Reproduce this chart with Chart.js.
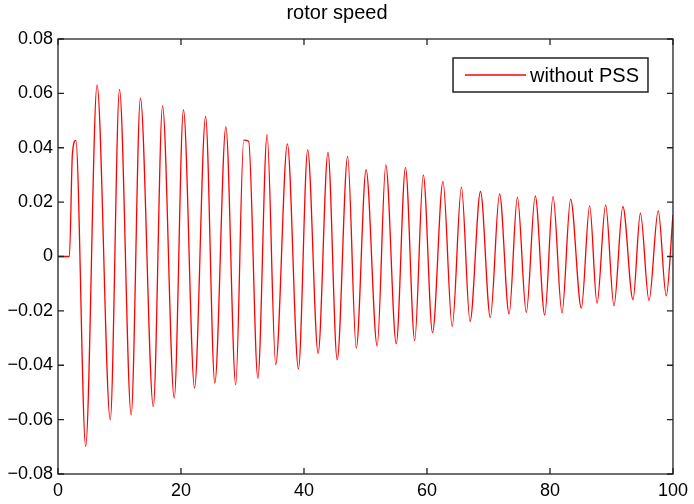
<!DOCTYPE html>
<html>
<head>
<meta charset="utf-8">
<script src="https://cdn.jsdelivr.net/npm/chart.js@4/dist/chart.umd.min.js"></script>
<style>
  html, body { margin: 0; padding: 0; background: #fff; }
  #wrap { width: 694px; height: 504px; }
</style>
</head>
<body>
<div id="wrap"><canvas id="chart-rotor"></canvas></div>
<script>
// time (s) at each turning point of the trace
const times = [0, 1.85, 2.35, 2.9, 4.5, 6.35, 8.5, 10.0, 11.9, 13.4, 15.5, 17.0,
  18.9, 20.4, 22.2, 24.0, 25.5, 27.3, 28.9, 30.2, 31.0, 32.5, 34.0, 35.4,
  37.3, 39.1, 40.6, 42.3, 43.9, 45.4, 47.1, 48.5, 50.1, 51.9, 53.3, 55.0,
  56.5, 58.0, 59.4, 60.9, 62.6, 64.1, 65.6, 67.0, 68.7, 70.3, 71.8, 73.35,
  74.7, 76.15, 77.6, 79.15, 80.5, 81.95, 83.35, 85.1, 86.45, 87.65, 89.05, 90.4,
  91.85, 93.5, 94.7, 96.1, 97.6, 98.9, 100];

const speedNoPss = [0, 0, 0.038, 0.0427, -0.0699, 0.0631, -0.0601, 0.0615, -0.0582, 0.0582, -0.0552, 0.0554,
  -0.0521, 0.054, -0.0484, 0.0515, -0.0466, 0.0478, -0.0472, 0.0428, 0.0424, -0.0448, 0.0448, -0.0398,
  0.0414, -0.0414, 0.0392, -0.0356, 0.0383, -0.038, 0.0368, -0.0337, 0.0319, -0.0329, 0.0337, -0.0321,
  0.0327, -0.0309, 0.030, -0.028, 0.0276, -0.0257, 0.0255, -0.0239, 0.0239, -0.0225, 0.023, -0.0211,
  0.0218, -0.0206, 0.0223, -0.0215, 0.0221, -0.0208, 0.0211, -0.019, 0.0186, -0.0172, 0.019, -0.0181,
  0.0184, -0.0159, 0.0159, -0.0162, 0.0169, -0.0145, 0.0153];

const xTicks = [0, 20, 40, 60, 80, 100];
const yTicks = [-0.08, -0.06, -0.04, -0.02, 0, 0.02, 0.04, 0.06, 0.08];

const seriesLabel = 'without PSS';
const titleText = 'rotor speed';

const FONT = 'Liberation Sans, Arial, sans-serif';
const INK = '#000';

// MATLAB-like box with inward ticks on all four sides
const boxPlugin = {
  id: 'box',
  afterDatasetsDraw(chart) {
    const { ctx, chartArea: a, scales } = chart;
    const len = 6;
    ctx.save();
    ctx.strokeStyle = '#222';
    ctx.lineWidth = 1.3;
    ctx.strokeRect(a.left, a.top, a.right - a.left, a.bottom - a.top);
    ctx.beginPath();
    xTicks.forEach(v => {
      const px = scales.x.getPixelForValue(v);
      ctx.moveTo(px, a.bottom); ctx.lineTo(px, a.bottom - len);
      ctx.moveTo(px, a.top); ctx.lineTo(px, a.top + len);
    });
    yTicks.forEach(v => {
      const py = scales.y.getPixelForValue(v);
      ctx.moveTo(a.left, py); ctx.lineTo(a.left + len, py);
      ctx.moveTo(a.right, py); ctx.lineTo(a.right - len, py);
    });
    ctx.stroke();

    // legend box, top right of the axes
    const ds = chart.data.datasets[0];
    ctx.font = '20px ' + FONT;
    const tw = ctx.measureText(ds.label).width;
    const bx1 = a.right - 25, by0 = a.top + 19, bh = 34;
    const bx0 = bx1 - tw - 86;
    ctx.fillStyle = '#fff';
    ctx.fillRect(bx0, by0, bx1 - bx0, bh);
    ctx.strokeStyle = '#222';
    ctx.lineWidth = 1.5;
    ctx.strokeRect(bx0, by0, bx1 - bx0, bh);
    ctx.strokeStyle = ds.borderColor;
    ctx.lineWidth = 1.5;
    ctx.beginPath();
    ctx.moveTo(bx0 + 12, by0 + bh / 2);
    ctx.lineTo(bx0 + 73, by0 + bh / 2);
    ctx.stroke();
    ctx.fillStyle = INK;
    ctx.textBaseline = 'middle';
    ctx.fillText(ds.label, bx0 + 77, by0 + bh / 2 + 1);
    ctx.restore();
  }
};

new Chart(document.getElementById('chart-rotor').getContext('2d'), {
  type: 'line',
  data: {
    datasets: [{
      label: seriesLabel,
      data: times.map((t, i) => ({ x: t, y: speedNoPss[i] })),
      borderColor: '#ff0000',
      borderWidth: 1.3,
      pointRadius: 0,
      cubicInterpolationMode: 'monotone',
      fill: false
    }]
  },
  options: {
    responsive: true,
    maintainAspectRatio: false,
    animation: false,
    layout: { padding: { left: 0, right: 20, top: 0, bottom: 0 } },
    plugins: {
      legend: { display: false },
      tooltip: { enabled: false },
      title: {
        display: true,
        text: titleText,
        color: INK,
        font: { family: FONT, size: 20, weight: 'normal' },
        padding: { top: 1, bottom: 14 }
      }
    },
    scales: {
      x: {
        type: 'linear',
        min: 0,
        max: 100,
        afterBuildTicks: s => { s.ticks = xTicks.map(v => ({ value: v })); },
        afterFit: s => { s.height = 30; },
        grid: { display: false, drawTicks: false },
        border: { display: false },
        ticks: {
          color: INK,
          font: { family: FONT, size: 18 },
          padding: 6,
          maxRotation: 0
        }
      },
      y: {
        type: 'linear',
        min: -0.08,
        max: 0.08,
        afterBuildTicks: s => { s.ticks = yTicks.map(v => ({ value: v })); },
        afterFit: s => { s.width = 58; },
        grid: { display: false, drawTicks: false },
        border: { display: false },
        ticks: {
          color: INK,
          font: { family: FONT, size: 18 },
          padding: 5,
          callback: v => (Math.abs(v) < 1e-9 ? '0' : v.toFixed(2).replace('-', '\u2212'))
        }
      }
    }
  },
  plugins: [boxPlugin]
});
</script>
</body>
</html>
